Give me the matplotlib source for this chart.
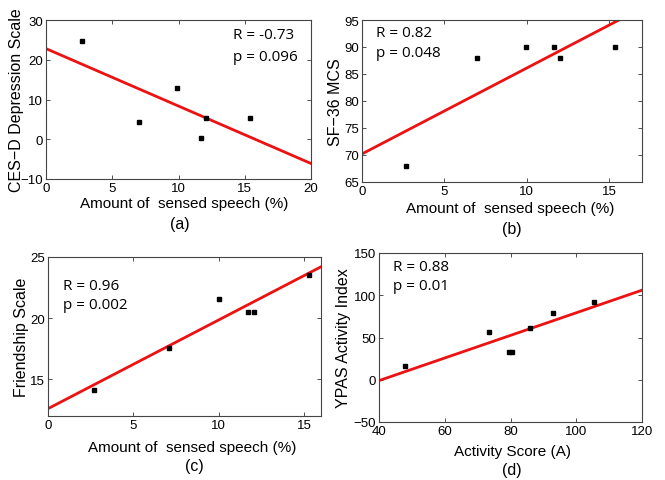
import matplotlib.pyplot as plt
import numpy as np

# panel (a) CES-D vs speech
speech_a = [2.7, 7.0, 9.9, 11.7, 12.1, 15.4]
cesd = [24.8, 4.3, 12.8, 0.2, 5.3, 5.3]
fit_a = (-1.445, 22.8)

# panel (b) SF-36 MCS vs speech
speech_b = [2.7, 7.0, 9.95, 11.65, 12.05, 15.35]
sf36 = [68, 88, 90, 90, 88, 90]
fit_b = (1.59, 70.2)

# panel (c) friendship vs speech
speech_c = [2.7, 7.1, 10.0, 11.7, 12.1, 15.3]
friend = [14.1, 17.6, 21.6, 20.5, 20.5, 23.5]
fit_c = (0.725, 12.6)

# panel (d) YPAS vs activity
activity = [48, 73.5, 79.5, 80.5, 86, 93, 105.5]
ypas = [16, 56, 33, 33, 61, 79, 92]
fit_d = (1.3375, -54.5)

W, H = 665, 481
fig = plt.figure(figsize=(W / 100, H / 100), dpi=100)

sans = ['Liberation Sans', 'DejaVu Sans']
note_font = ['Open Sans', 'DejaVu Sans']


def px_axes(l, t, r, b):
    return fig.add_axes([l / W, (H - b) / H, (r - l) / W, (b - t) / H])


def panel(rect, x, y, fit, xlim, ylim, xticks, yticks, xlabel, ylabel,
          rtext, ptext, tx, ty_r, ty_p, sub, sub_xy, lab_xy, ylab_x):
    ax = px_axes(*rect)
    xs = np.array(xlim, dtype=float)
    ax.plot(xs, fit[0] * xs + fit[1], color='#ee1111', lw=2)
    ax.plot(x, y, 's', color='black', ms=3.2)
    ax.set_xlim(xlim)
    ax.set_ylim(ylim)
    ax.set_xticks(xticks)
    ax.set_yticks(yticks)
    ax.tick_params(direction='in', length=3, width=0.6, top=True, right=True,
                   labelsize=9.5, pad=2, colors='#333333', labelcolor='black')
    for lbl in ax.get_xticklabels() + ax.get_yticklabels():
        lbl.set_family(sans)
    for s in ax.spines.values():
        s.set_color('#444444')
        s.set_linewidth(0.8)
    ax.text(tx, ty_r, rtext, transform=ax.transAxes, fontsize=11,
            family=note_font, va='center')
    ax.text(tx, ty_p, ptext, transform=ax.transAxes, fontsize=11,
            family=note_font, va='center')
    fig.text(lab_xy[0] / W, 1 - lab_xy[1] / H, xlabel, ha='center', va='center',
             fontsize=11, family=sans)
    fig.text(ylab_x / W, 1 - ((rect[1] + rect[3]) / 2) / H, ylabel, rotation=90,
             ha='center', va='center', fontsize=11.5, family=sans)
    fig.text(sub_xy[0] / W, 1 - sub_xy[1] / H, sub, ha='center', va='center',
             fontsize=11.5, family=sans)
    return ax


panel((46, 21, 311, 180), speech_a, cesd, fit_a, (0, 20), (-10, 30),
      [0, 5, 10, 15, 20], [-10, 0, 10, 20, 30],
      'Amount of  sensed speech (%)', 'CES\u2212D Depression Scale',
      'R = -0.73', 'p = 0.096', 0.705, 0.91, 0.77,
      '(a)', (180, 224), (184, 204), 17)

panel((362, 21, 642, 183), speech_b, sf36, fit_b, (0, 17), (65, 95),
      [0, 5, 10, 15], [65, 70, 75, 80, 85, 90, 95],
      'Amount of  sensed speech (%)', 'SF\u221236 MCS',
      'R = 0.82', 'p = 0.048', 0.05, 0.92, 0.80,
      '(b)', (512, 230), (510, 209), 336)

panel((48, 258, 321, 417), speech_c, friend, fit_c, (0, 16), (12, 25),
      [0, 5, 10, 15], [15, 20, 25],
      'Amount of  sensed speech (%)', 'Friendship Scale',
      'R = 0.96', 'p = 0.002', 0.055, 0.82, 0.70,
      '(c)', (194, 467), (192, 448), 22)

panel((379, 254, 642, 423), activity, ypas, fit_d, (40, 120), (-50, 150),
      [40, 60, 80, 100, 120], [-50, 0, 50, 100, 150],
      'Activity Score (A)', 'YPAS Activity Index',
      'R = 0.88', 'p = 0.01', 0.053, 0.92, 0.81,
      '(d)', (512, 471), (512, 452), 343)

fig.savefig('out.png', dpi=100)
